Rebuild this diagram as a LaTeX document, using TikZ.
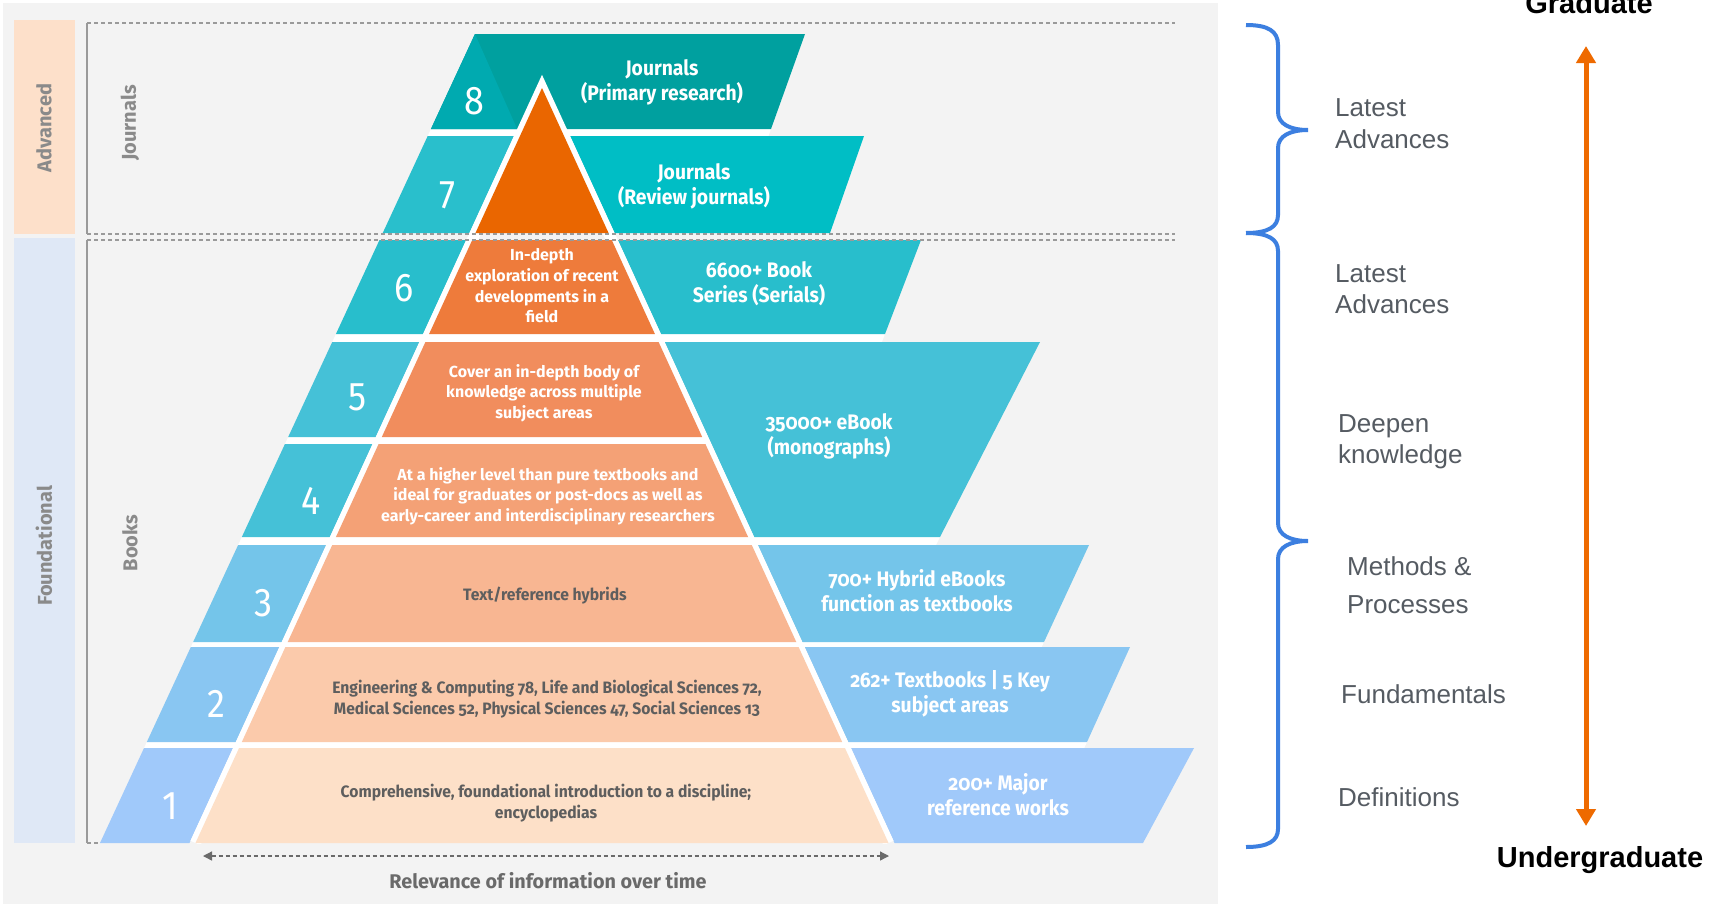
\documentclass[tikz,border=0pt]{standalone}
\usepackage{fontspec}
\usetikzlibrary{arrows.meta}
\newfontfamily\pyr[Numbers=OldStyle,FakeStretch=0.92]{Fira Sans}
\newfontfamily\pyrw[Numbers=OldStyle]{Fira Sans}
\newfontfamily\pyrg[Numbers=OldStyle,FakeStretch=0.95]{Fira Sans}
\newfontfamily\pyrnum[FakeStretch=0.9]{Fira Sans}
\newfontfamily\labfont{Fira Sans}
\newfontfamily\ari{Liberation Sans}
\definecolor{panel}{HTML}{F3F3F3}
\definecolor{advbar}{HTML}{FDE0CA}
\definecolor{fndbar}{HTML}{DFE8F6}
\definecolor{c8d}{HTML}{00A09F}
\definecolor{c8l}{HTML}{00AAB0}
\definecolor{c7l}{HTML}{29BFCC}
\definecolor{c7r}{HTML}{00BEC5}
\definecolor{c6}{HTML}{28BECC}
\definecolor{c45}{HTML}{45C1D7}
\definecolor{c3}{HTML}{74C5EA}
\definecolor{c2}{HTML}{89C6F2}
\definecolor{c1}{HTML}{A0C9FA}
\definecolor{oTop}{HTML}{EA6600}
\definecolor{o6}{HTML}{EE7B3B}
\definecolor{o5}{HTML}{F18D5D}
\definecolor{o4}{HTML}{F4A176}
\definecolor{o3}{HTML}{F8B692}
\definecolor{o2}{HTML}{FBCAAB}
\definecolor{o1}{HTML}{FDE0C8}
\definecolor{txtgray}{HTML}{5E5E5E}
\definecolor{labgray}{HTML}{8A8A8A}
\definecolor{linegray}{HTML}{9A9A9A}
\definecolor{relgray}{HTML}{6A6A6A}
\definecolor{rgray}{HTML}{555B62}
\definecolor{braceblue}{HTML}{3C7FE0}
\definecolor{arrorange}{HTML}{EE6A00}
\newcommand\pyrL[3]{\fill[#1] ({xo(#2)},#2) -- ({542-hw(#2)-6},#2) -- ({542-hw(#3)-6},#3) -- ({xo(#3)},#3) -- cycle;}
\newcommand\pyrO[3]{\fill[#1] ({542-hw(#2)},#2) -- ({542+hw(#2)},#2) -- ({542+hw(#3)},#3) -- ({542-hw(#3)},#3) -- cycle;}
\newcommand\pyrR[5]{\fill[#1] ({542+hw(#2)+6},#2) -- (#4,#2) -- (#5,#3) -- ({542+hw(#3)+6},#3) -- cycle;}
\newcommand\pyrGap[4]{\fill[white] ({xo(#1)},#1) -- (#3,#1) -- (#4,#2) -- ({xo(#2)},#2) -- cycle;}
\begin{document}
\begin{tikzpicture}[x=1pt,y=-1pt,
  declare function={xo(\y)=100+(843-\y)*0.4635; hw(\y)=(\y-88)*0.459;},
  num/.style={font=\pyrnum\fontsize{40}{40}\selectfont, text=white, inner sep=0pt},
  boxtxt/.style={font=\pyr\bfseries\fontsize{21}{25}\selectfont, text=white, align=center, inner sep=0pt},
  otxt/.style={font=\pyrw\bfseries\fontsize{16}{20.7}\selectfont, text=white, align=center, inner sep=0pt},
  gtxt/.style={font=\pyrg\bfseries\fontsize{16.5}{21.5}\selectfont, text=txtgray, align=center, inner sep=0pt},
  sidelab/.style={font=\labfont\bfseries\fontsize{20}{20}\selectfont, text=labgray, rotate=90, inner sep=0pt},
  rtxt/.style={font=\ari\fontsize{26}{26}\selectfont, text=rgray, anchor=base west, inner sep=0pt},
  gline/.style={draw=linegray, line width=1.3pt},
  gdash/.style={gline, dash pattern=on 4pt off 3pt},
  bracestyle/.style={draw=braceblue, line width=4pt, line cap=butt},
]
\useasboundingbox (0,0) rectangle (1713,905);
\fill[white] (0,0) rectangle (1713,905);
\fill[panel] (3,3) rectangle (1218,904);
% side bars
\fill[advbar] (14,20) rectangle (75,234);
\fill[fndbar] (14,238) rectangle (75,843);
% white gaps between rows
\pyrGap{129}{136}{771}{768.5}
\pyrGap{334}{342}{885}{882}
\fill[white] ({xo(437)},437) -- ({542+hw(437)+6},437) -- ({542+hw(444)+6},444) -- ({xo(444)},444) -- cycle;
\pyrGap{537}{545}{940}{936}
\pyrGap{642}{647}{1044}{1041.7}
\pyrGap{742}{748}{1087}{1084.3}
% row 8 band
\fill[c8d] ({xo(34)},34) -- (805,34) -- (771,129) -- ({xo(129)},129) -- cycle;
\fill[c8l] ({xo(34)},34) -- ({542-hw(129)-6},129) -- ({xo(129)},129) -- cycle;
% row 7
\pyrL{c7l}{136}{233}
\pyrR{c7r}{136}{233}{864}{830}
% row 6
\pyrL{c6}{240}{334}
\pyrR{c6}{240}{334}{921}{885}
% rows 5 and 4
\pyrL{c45}{342}{437}
\pyrL{c45}{444}{537}
\pyrR{c45}{342}{537}{1040}{940}
% row 3
\pyrL{c3}{545}{642}
\pyrR{c3}{545}{642}{1089}{1044}
% row 2
\pyrL{c2}{647}{742}
\pyrR{c2}{647}{742}{1130}{1087}
% row 1
\pyrL{c1}{748}{843}
\pyrR{c1}{748}{843}{1194}{1143}
% white outline of the triangle
\begin{scope}
\clip (0,0) rectangle (1713,843);
\draw[white, line width=11pt, line join=miter, miter limit=10] ({542-hw(843)},843) -- (542,88) -- ({542+hw(843)},843);
\end{scope}
% orange pieces
\fill[oTop] (542,88) -- ({542+hw(233)},233) -- ({542-hw(233)},233) -- cycle;
\pyrO{o6}{240}{334}
\pyrO{o5}{342}{437}
\pyrO{o4}{444}{537}
\pyrO{o3}{545}{642}
\pyrO{o2}{647}{742}
\pyrO{o1}{748}{843}
% frames
\draw[gdash] (87,23) -- (1175,23);
\draw[gdash] (87,234) -- (1175,234);
\draw[gdash] (87,240) -- (1175,240);
\draw[gdash] (87,843) -- (100,843);
\draw[gline] (87,23) -- (87,234);
\draw[gline] (87,240) -- (87,843);
% side labels
\node[sidelab] (adv) at (44,128) {Advanced};
\node[sidelab] (fnd) at (44,546) {Foundational};
\node[sidelab] (jour) at (130,123) {Journals};
\node[sidelab] (books) at (130,543) {Books};
% numbers
\node[num] (n8) at (474,101) {8};
\node[num] (n7) at (447,195) {7};
\node[num] (n6) at (404,288) {6};
\node[num] (n5) at (358,397) {5};
\node[num] (n4) at (311,501) {4};
\node[num] (n3) at (263,603) {3};
\node[num] (n2) at (216,704) {2};
\node[num] (n1) at (170,806) {1};
% texts
\node[boxtxt] (t8) at (662,82) {Journals\\(Primary research)};
\node[boxtxt] (t7) at (694,186) {Journals\\(Review journals)};
\node[otxt] (x6) at (542,286) {In-depth\\exploration of recent\\developments in a\\field};
\node[boxtxt] (t6) at (759,284) {6600+ Book\\Series (Serials)};
\node[otxt] (x5) at (544,393) {Cover an in-depth body of\\knowledge across multiple\\subject areas};
\node[otxt] (x4) at (548,496) {At a higher level than pure textbooks and\\ideal for graduates or post-docs as well as\\early-career and interdisciplinary researchers};
\node[boxtxt] (t45) at (829,436) {35000+ eBook\\(monographs)};
\node[gtxt] (x3) at (545,596) {Text/reference hybrids};
\node[boxtxt] (t3) at (917,591) {700+ Hybrid eBooks\\function as textbooks};
\node[gtxt] (x2) at (547,699) {Engineering \& Computing 78, Life and Biological Sciences 72,\\Medical Sciences 52, Physical Sciences 47, Social Sciences 13};
\node[boxtxt] (t2) at (950,694) {262+ Textbooks | 5 Key\\subject areas};
\node[gtxt] (x1) at (546,803) {Comprehensive, foundational introduction to a discipline;\\encyclopedias};
\node[boxtxt] (t1) at (998,795) {200+ Major\\reference works};
% relevance arrow
\coordinate (relL) at (203,856);
\coordinate (relR) at (889,856);
\draw[draw=relgray, line width=1.3pt, dash pattern=on 4pt off 3pt, {Triangle[width=9pt,length=9pt]}-{Triangle[width=9pt,length=9pt]}] (relL) -- (relR);
\node[font=\pyrw\bfseries\fontsize{19.8}{19.8}\selectfont, text=relgray, inner sep=0pt] (rel) at (548,881) {Relevance of information over time};
% braces
\draw[bracestyle] (1246,25) .. controls (1268,25) and (1278,31) .. (1278,45) -- (1278,112) .. controls (1278,124) and (1290,130) .. (1308,130) .. controls (1290,130) and (1278,136) .. (1278,148) -- (1278,215) .. controls (1278,227) and (1268,233) .. (1246,233);
\draw[bracestyle] (1246,233) .. controls (1268,233) and (1278,239) .. (1278,251) -- (1278,523) .. controls (1278,535) and (1290,541) .. (1308,541) .. controls (1290,541) and (1278,547) .. (1278,559) -- (1278,829) .. controls (1278,841) and (1268,847) .. (1246,847);
% right labels
\node[rtxt] (la1) at (1335,116) {Latest};
\node[rtxt] (la2) at (1335,148) {Advances};
\node[rtxt] (lb1) at (1335,282) {Latest};
\node[rtxt] (lb2) at (1335,313) {Advances};
\node[rtxt] (dk1) at (1338,432) {Deepen};
\node[rtxt] (dk2) at (1338,463) {knowledge};
\node[rtxt] (mp1) at (1347,575) {Methods \&};
\node[rtxt] (mp2) at (1347,613) {Processes};
\node[rtxt] (fun) at (1341,703) {Fundamentals};
\node[rtxt] (def) at (1338,806) {Definitions};
% orange arrow
\coordinate (gtop) at (1586,46);
\coordinate (gbot) at (1586,826);
\draw[draw=arrorange, line width=5pt, {Triangle[width=19pt,length=17pt]}-{Triangle[width=19pt,length=17pt]}] (gtop) -- (gbot);
\node[font=\ari\bfseries\fontsize{29}{29}\selectfont, anchor=base, inner sep=0pt] (grad) at (1589,13) {Graduate};
\node[font=\ari\bfseries\fontsize{29}{29}\selectfont, anchor=base, inner sep=0pt] (ugrad) at (1600,867) {Undergraduate};
\end{tikzpicture}
\end{document}
